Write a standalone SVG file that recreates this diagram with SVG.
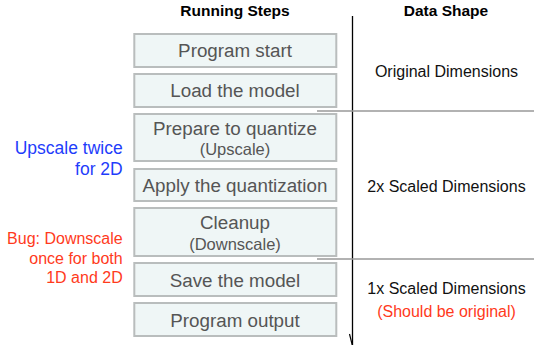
<svg xmlns="http://www.w3.org/2000/svg" width="538" height="345" viewBox="0 0 538 345">
<style>
.box{fill:#eff6f6;stroke:#b9bdbd;stroke-width:2}
.t{font-family:"Liberation Sans",Arial,sans-serif;font-size:18.8px;fill:#555;text-anchor:middle}
.s{font-family:"Liberation Sans",Arial,sans-serif;font-size:16.5px;fill:#555;text-anchor:middle}
.h{font-family:"Liberation Sans",Arial,sans-serif;font-size:15.5px;font-weight:bold;fill:#000;text-anchor:middle}
.d{font-family:"Liberation Sans",Arial,sans-serif;font-size:16px;fill:#111;text-anchor:middle}
.red{font-family:"Liberation Sans",Arial,sans-serif;font-size:16px;fill:#ff3a1c}
.blue{font-family:"Liberation Sans",Arial,sans-serif;font-size:17.5px;fill:#1f3dfb;text-anchor:end}
.sep{stroke:#999;stroke-width:1.4;fill:none}
</style>
<defs>
<marker id="half" markerWidth="8" markerHeight="14" refX="4" refY="13" orient="0" markerUnits="userSpaceOnUse">
<path d="M1,1 L4,13" stroke="#000" stroke-width="1.2" fill="none"/>
</marker>
</defs>
<text class="h" x="235" y="16">Running Steps</text>
<text class="h" x="446" y="16">Data Shape</text>
<g id="connectors">
<line x1="352.5" y1="16" x2="352.5" y2="346" stroke="#000" stroke-width="1.3" marker-end="url(#half)"/>
<line class="sep" x1="317" y1="111" x2="534" y2="111"/>
<line class="sep" x1="317" y1="259" x2="534" y2="259"/>
</g>
<g id="program-start"><rect class="box" x="134.3" y="34" width="202" height="33"/><text class="t" x="235" y="57.3">Program start</text></g>
<g id="load-model"><rect class="box" x="134.3" y="74" width="202" height="33"/><text class="t" x="235" y="97.3">Load the model</text></g>
<g id="prepare"><rect class="box" x="134.3" y="114" width="202" height="47"/><text class="t" x="235" y="135">Prepare to quantize</text><text class="s" x="235" y="155">(Upscale)</text></g>
<g id="apply"><rect class="box" x="134.3" y="169" width="202" height="32"/><text class="t" x="235" y="191.7">Apply the quantization</text></g>
<g id="cleanup"><rect class="box" x="134.3" y="208" width="202" height="48"/><text class="t" x="235" y="229.3">Cleanup</text><text class="s" x="235" y="250">(Downscale)</text></g>
<g id="save-model"><rect class="box" x="134.3" y="263" width="202" height="33"/><text class="t" x="235" y="286.7">Save the model</text></g>
<g id="program-output"><rect class="box" x="134.3" y="303" width="202" height="33"/><text class="t" x="235" y="326.7">Program output</text></g>
<g id="shape-original"><text class="d" x="446.5" y="77">Original Dimensions</text></g>
<g id="shape-2x"><text class="d" x="446.5" y="191.5">2x Scaled Dimensions</text></g>
<g id="shape-1x"><text class="d" x="446.5" y="293.5">1x Scaled Dimensions</text><text class="red" x="446.5" y="317" text-anchor="middle">(Should be original)</text></g>
<g id="note-upscale"><text class="blue" x="122.7" y="154">Upscale twice</text><text class="blue" x="122.7" y="175">for 2D</text></g>
<g id="note-bug"><text class="red" x="122.7" y="244" text-anchor="end">Bug: Downscale</text><text class="red" x="122.7" y="263.5" text-anchor="end">once for both</text><text class="red" x="122.7" y="283" text-anchor="end">1D and 2D</text></g>
</svg>
